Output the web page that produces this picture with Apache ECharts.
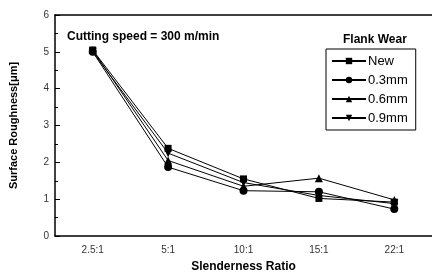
<!DOCTYPE html>
<html>
<head>
<meta charset="utf-8">
<title>chart</title>
<style>html,body{margin:0;padding:0;background:#fff;}</style>
</head>
<body>
<div id="graph" style="width:432px;height:278px;"></div>
<script src="https://cdnjs.cloudflare.com/ajax/libs/echarts/6.0.0/echarts.min.js"></script>
<script>
const ratios = ['2.5:1', '5:1', '10:1', '15:1', '22:1'];
const wearNew = [5.05, 2.38, 1.55, 1.02, 0.92];
const wear03 = [5.0, 1.87, 1.23, 1.2, 0.73];
const wear06 = [5.05, 2.05, 1.35, 1.57, 0.98];
const wear09 = [5.0, 2.25, 1.45, 1.1, 0.88];

(function () {
    let chart = echarts.init(document.getElementById('graph'));
    const font = 'Liberation Sans, Arial, sans-serif';

    function line(name, data, symbol, rotate) {
        return {
            name: name,
            type: 'line',
            data: data,
            symbol: symbol,
            symbolSize: symbol === 'rect' ? 7 : 8,
            symbolRotate: rotate || 0,
            color: '#000',
            lineStyle: { color: '#000', width: 1 },
            itemStyle: { color: '#000' },
            animation: false
        };
    }

    chart.setOption({
        animation: false,
        grid: { left: 53, right: 0, top: 15, bottom: 36 },
        title: [
            {
                text: 'Cutting speed = 300 m/min',
                left: 62, top: 26,
                textStyle: { fontFamily: font, fontSize: 12, fontWeight: 'bold', color: '#000' }
            },
            {
                text: 'Flank Wear',
                left: 338, top: 29,
                textStyle: { fontFamily: font, fontSize: 12, fontWeight: 'bold', color: '#000' }
            }
        ],
        legend: {
            orient: 'vertical',
            left: 326, top: 49,
            padding: [5, 8, 5, 5],
            itemGap: 5,
            itemWidth: 34,
            itemHeight: 8,
            borderColor: '#000',
            borderWidth: 1,
            textStyle: { fontFamily: font, fontSize: 13, lineHeight: 14, color: '#000', padding: [0, 0, 0, -3] },
            data: ['New', '0.3mm', '0.6mm', '0.9mm']
        },
        xAxis: [
            {
                type: 'category',
                data: ratios,
                boundaryGap: true,
                name: 'Slenderness Ratio',
                nameLocation: 'middle',
                nameGap: 25,
                nameTextStyle: { fontFamily: font, fontSize: 12, fontWeight: 'bold', color: '#000' },
                axisLine: { lineStyle: { color: '#000', width: 1.5 } },
                axisTick: { alignWithLabel: true, inside: true, length: 5, lineStyle: { color: '#000' } },
                axisLabel: { fontFamily: font, fontSize: 10, color: '#333', margin: 9 }
            },
            {
                type: 'category',
                data: ratios,
                boundaryGap: true,
                position: 'bottom',
                axisLine: { show: false },
                axisTick: { inside: true, length: 3, lineStyle: { color: '#000' } },
                axisLabel: { show: false }
            },
            {
                type: 'value',
                position: 'top',
                min: 0, max: 1,
                axisLine: { show: true, lineStyle: { color: '#000', width: 1.5 } },
                axisTick: { show: false },
                axisLabel: { show: false },
                splitLine: { show: false }
            }
        ],
        yAxis: {
            type: 'value',
            min: 0, max: 6, interval: 1,
            name: 'Surface Roughness[μm]',
            nameLocation: 'middle',
            nameGap: 36,
            nameTextStyle: { fontFamily: font, fontSize: 11, fontWeight: 'bold', color: '#000' },
            axisLine: { show: true, lineStyle: { color: '#000', width: 1.5 } },
            axisTick: { show: true, inside: true, length: 5, lineStyle: { color: '#000' } },
            minorTick: { show: true, splitNumber: 2, length: 3, lineStyle: { color: '#000' } },
            axisLabel: { fontFamily: font, fontSize: 10, color: '#333', margin: 6 },
            splitLine: { show: false }
        },
        series: [
            line('New', wearNew, 'rect'),
            line('0.3mm', wear03, 'circle'),
            line('0.6mm', wear06, 'triangle'),
            line('0.9mm', wear09, 'triangle', 180)
        ]
    });
})();
</script>
</body>
</html>
